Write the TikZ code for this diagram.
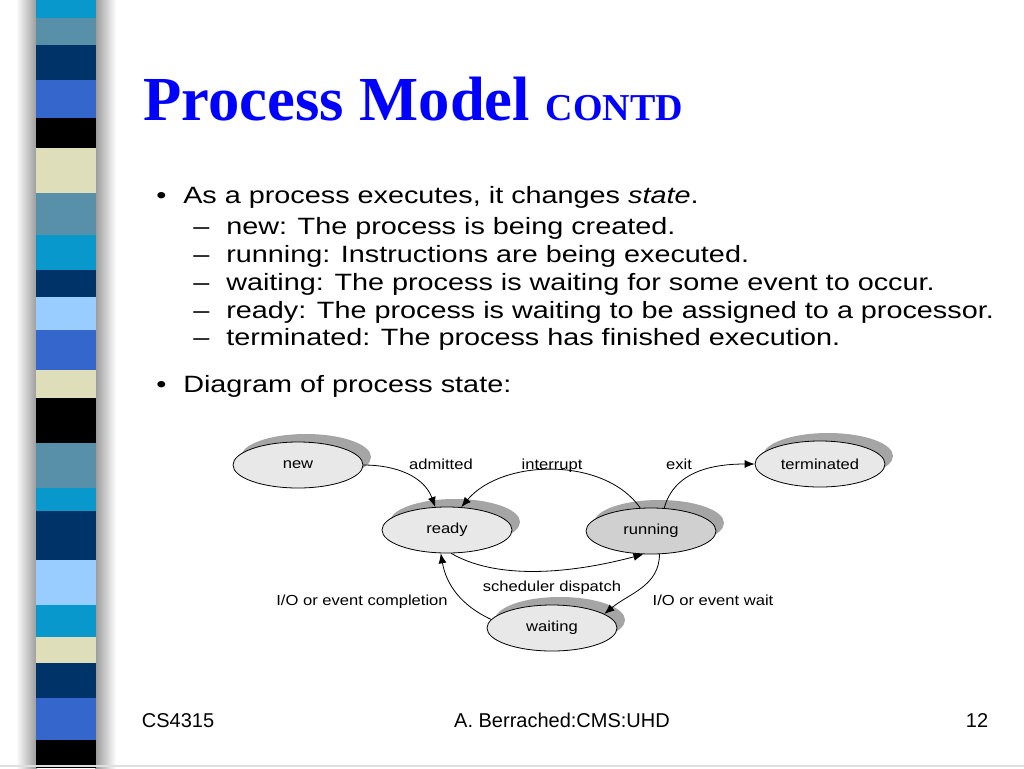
\documentclass[tikz,border=0pt]{standalone}
\usepackage{fontspec}
\setmainfont{Liberation Serif}
\newfontfamily\sansf{Liberation Sans}
\usetikzlibrary{shapes.geometric,shadows,arrows.meta}
\definecolor{scyan}{RGB}{8,152,204}
\definecolor{ssteel}{RGB}{88,144,170}
\definecolor{snavy}{RGB}{0,52,104}
\definecolor{sroyal}{RGB}{52,102,204}
\definecolor{sbeige}{RGB}{222,222,186}
\definecolor{slight}{RGB}{153,204,255}
\definecolor{ellfill}{RGB}{232,232,232}
\definecolor{runfill}{RGB}{208,208,208}
\definecolor{shadowgray}{RGB}{165,165,165}
\definecolor{titleblue}{RGB}{0,0,255}
\newcommand\dlab[1]{\scalebox{1.14}[1]{#1}}
\newcommand\blab[1]{\scalebox{1.22}[1]{#1}}
\begin{document}
\begin{tikzpicture}[x=0.75pt,y=0.75pt,
  state/.style={ellipse, draw=black, line width=0.6pt, fill=ellfill,
    minimum width=97.5pt, minimum height=34.5pt, inner sep=0pt,
    font=\sansf\fontsize{10.9}{12}\selectfont,
    drop shadow={shadow xshift=6pt, shadow yshift=6pt, fill=shadowgray, opacity=1}},
  lbl/.style={inner sep=0pt, anchor=base, font=\sansf\fontsize{10.9}{12}\selectfont},
  body/.style={inner sep=0pt, anchor=base west, font=\sansf\fontsize{17.7}{21}\selectfont},
  foot/.style={inner sep=0pt, anchor=base, font=\sansf\fontsize{15}{18}\selectfont},
  arr/.style={-{Latex[length=7.5pt,width=6pt]}, line width=0.6pt, black}]
\useasboundingbox (0,0) rectangle (1024,-768);
\fill[white] (0,0) rectangle (1024,-768);
% stripe shadow
\shade[left color=white, right color=gray!80] (16,0) rectangle (37,-768);
\shade[left color=gray!80, right color=white] (95,0) rectangle (116,-768);
% stripe
\foreach \ya/\yb/\c in {0/18/scyan,18/45/ssteel,45/80/snavy,80/118/sroyal,118/148/black,
  148/193/sbeige,193/235/ssteel,235/270/scyan,270/297/snavy,297/330/slight,330/370/sroyal,
  370/398/sbeige,398/443/black,443/488/ssteel,488/511/scyan,511/560/snavy,560/605/slight,
  605/637/scyan,637/663/sbeige,663/698/snavy,698/740/sroyal,740/768/black}
  {\fill[\c] (36,-\ya) rectangle (96,-\yb);}
\draw[gray!25, line width=1pt] (0,-766) -- (1024,-766);
% title
\node[inner sep=0pt, anchor=base west, text=titleblue,
  font=\fontsize{47}{56}\selectfont\bfseries] (title) at (143,-120)
  {Process Model {\fontsize{28.5}{34}\selectfont CONTD}};
% bullets
\node[body] (b1) at (156,-203) {\blab{\textbullet}};
\node[body] (t1) at (183,-203) {\blab{As a process executes, it changes \textit{state}.}};
\node[body] (d2) at (193,-234) {\blab{–}};
\node[body] (t2) at (226,-234) {\blab{new: The process is being created.}};
\node[body] (d3) at (193,-262) {\blab{–}};
\node[body] (t3) at (226,-262) {\blab{running: Instructions are being executed.}};
\node[body] (d4) at (193,-290) {\blab{–}};
\node[body] (t4) at (226,-290) {\blab{waiting: The process is waiting for some event to occur.}};
\node[body] (d5) at (193,-318) {\blab{–}};
\node[body] (t5) at (226,-318) {\blab{ready: The process is waiting to be assigned to a processor.}};
\node[body] (d6) at (193,-345) {\blab{–}};
\node[body] (t6) at (226,-345) {\blab{terminated: The process has finished execution.}};
\node[body] (b7) at (156,-392) {\blab{\textbullet}};
\node[body] (t7) at (183,-392) {\blab{Diagram of process state:}};
% states
\node[state] (new) at (298,-465) {\dlab{new}};
\node[state] (ready) at (447,-530) {\dlab{ready}};
\node[state, fill=runfill] (running) at (651,-531) {\dlab{running}};
\node[state] (waiting) at (552,-628) {\dlab{waiting}};
\node[state] (terminated) at (820,-464) {\dlab{terminated}};
% transitions
\draw[arr] (new.east) to[out=0, in=110] (ready.117);
\draw[arr] (running.115) to[out=125, in=50, looseness=0.9] (ready.58);
\draw[arr] (running.60) to[out=75, in=180] (terminated.west);
\draw[arr] (ready.-80) to[out=-30, in=-165, looseness=0.8] (running.-108);
\draw[arr] (running.-70) to[out=-90, in=40] (waiting.15);
\draw[arr] (waiting.172) to[out=155, in=-80] (ready.-105);
% labels
\node[lbl] (ladm) at (441,-469) {\dlab{admitted}};
\node[lbl] (lint) at (552,-469) {\dlab{interrupt}};
\node[lbl] (lexit) at (679,-469) {\dlab{exit}};
\node[lbl] (lsch) at (552,-591) {\dlab{scheduler dispatch}};
\node[lbl] (lcomp) at (362,-605) {\dlab{I/O or event completion}};
\node[lbl] (lwait) at (713,-605) {\dlab{I/O or event wait}};
% footer
\node[foot] (f1) at (178,-727) {CS4315};
\node[foot] (f2) at (562,-727) {A. Berrached:CMS:UHD};
\node[foot] (f3) at (977,-727) {12};
\end{tikzpicture}
\end{document}
